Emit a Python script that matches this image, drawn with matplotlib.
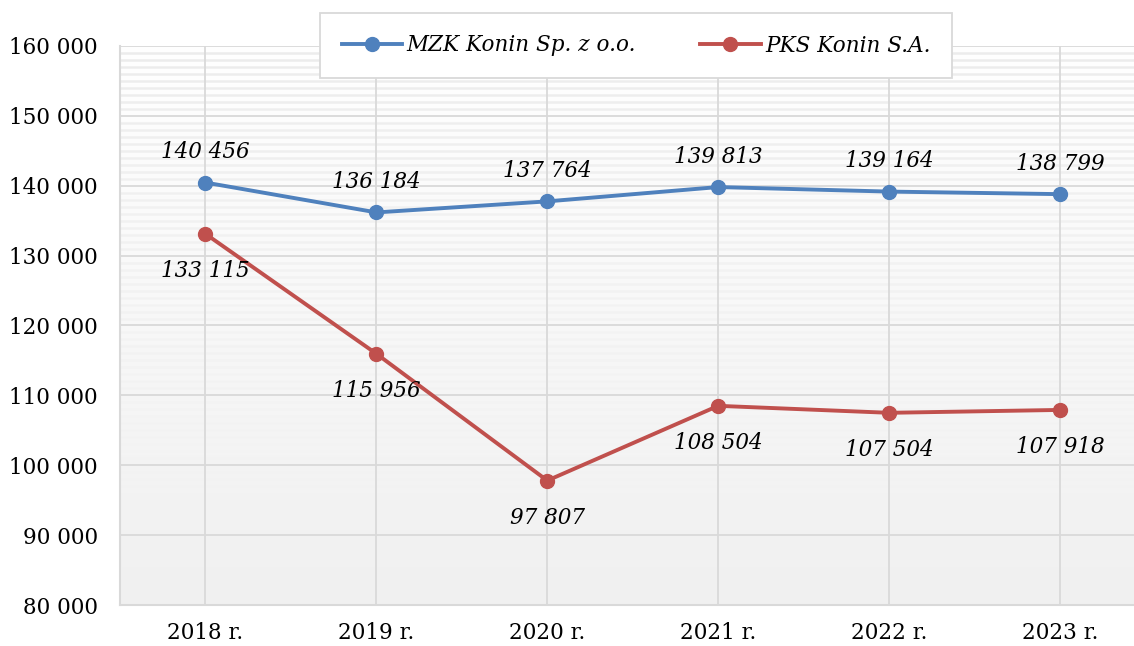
import matplotlib
matplotlib.use("Agg")
import matplotlib.pyplot as plt
import numpy as np
from matplotlib.ticker import FuncFormatter, MultipleLocator
from matplotlib.colors import LinearSegmentedColormap

years = ["2018 r.", "2019 r.", "2020 r.", "2021 r.", "2022 r.", "2023 r."]
mzk = [140456, 136184, 137764, 139813, 139164, 138799]
pks = [133115, 115956, 97807, 108504, 107504, 107918]
series_names = ["MZK Konin Sp. z o.o.", "PKS Konin S.A."]

plt.rcParams['font.family'] = ['DejaVu Serif']

W, H = 1134, 646
fig = plt.figure(figsize=(W/100, H/100), dpi=100)
left, right, top, bottom = 120, 1134, 46, 605
ax = fig.add_axes([left/W, 1-bottom/H, (right-left)/W, (bottom-top)/H])

x = np.arange(len(years))
xmax = 5 + (1134 - 1060) / 171.0
ax.set_xlim(-0.5, xmax)
ax.set_ylim(80000, 160000)

# background gradient: white at top, light gray at bottom
grad = np.linspace(0.0, 1.0, 256).reshape(-1, 1)
cmap = LinearSegmentedColormap.from_list("bg", ["#f0f0f0", "#ffffff"])
ax.imshow(grad, extent=[-0.5, xmax, 80000, 160000], aspect='auto', cmap=cmap,
          origin='lower', zorder=0)

# faint stripes fading towards the bottom
for v in range(81000, 160000, 1000):
    if v % 10000 == 0:
        continue
    frac = (v - 80000) / 80000
    a = max(0.0, (frac - 0.2) / 0.8)
    ax.axhline(v, color="#ececec", lw=1.8, alpha=a, zorder=0.5)

ax.yaxis.set_major_locator(MultipleLocator(10000))
ax.grid(axis='y', color="#d9d9d9", lw=1.3, zorder=1)
for xi in x:
    ax.axvline(xi, color="#d9d9d9", lw=1.3, zorder=1)

for s in ['top', 'right']:
    ax.spines[s].set_visible(False)
for s in ['left', 'bottom']:
    ax.spines[s].set_color("#d9d9d9")
    ax.spines[s].set_linewidth(1.5)

ax.set_xticks(x)
ax.set_xticklabels(years)
ax.tick_params(length=0, labelsize=15.5, colors="black")
ax.tick_params(axis='x', pad=12)
ax.tick_params(axis='y', pad=16)
ax.yaxis.set_major_formatter(FuncFormatter(lambda v, p: f"{int(v):,}".replace(",", " ")))

blue = "#4f81bd"
red = "#c0504d"
ax.plot(x, mzk, color=blue, lw=2.8, marker='o', ms=10, label=series_names[0], zorder=3)
ax.plot(x, pks, color=red, lw=2.8, marker='o', ms=10, label=series_names[1], zorder=3)

fmt = lambda v: f"{v:,}".replace(",", " ")
for xi, v in zip(x, mzk):
    ax.annotate(fmt(v), (xi, v), xytext=(0, 14), textcoords='offset points',
                ha='center', va='bottom', fontsize=15.5, style='italic', zorder=4)
for xi, v in zip(x, pks):
    ax.annotate(fmt(v), (xi, v), xytext=(0, -19), textcoords='offset points',
                ha='center', va='top', fontsize=15.5, style='italic', zorder=4)

leg = fig.legend(loc='center', bbox_to_anchor=(636/W, 1-45.5/H), ncol=2,
                 prop={'size': 15.5, 'style': 'italic'}, frameon=True, fancybox=False,
                 borderpad=1.0, columnspacing=3.0, handlelength=2.8, handletextpad=0.2,
                 borderaxespad=0)
leg.get_frame().set_edgecolor("#d9d9d9")
leg.get_frame().set_linewidth(1.3)
leg.get_frame().set_alpha(1.0)

fig.savefig("out.png", dpi=100, facecolor="white")
